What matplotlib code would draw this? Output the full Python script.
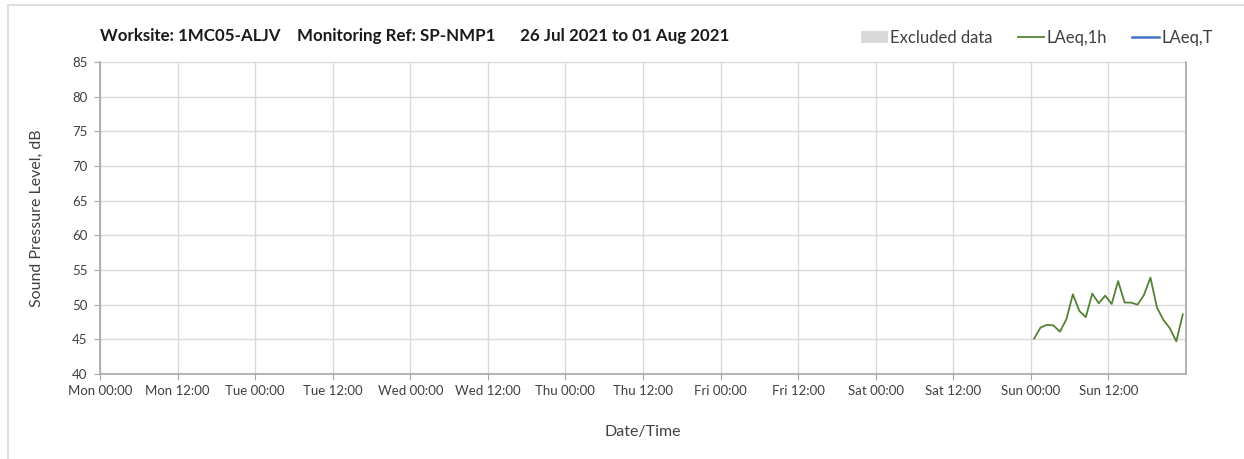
import matplotlib
matplotlib.use("Agg")
import matplotlib.pyplot as plt
import pandas as pd
from matplotlib.lines import Line2D
from matplotlib.patches import Patch

TITLE = "Worksite: 1MC05-ALJV    Monitoring Ref: SP-NMP1      26 Jul 2021 to 01 Aug 2021"
START = "2021-07-26 00:00"
END = "2021-08-02 00:00"

# hourly LAeq,1h readings on Sunday 01 Aug 2021 (timestamps at the mid-hour)
laeq_times = pd.date_range("2021-08-01 00:30", periods=24, freq="h")
laeq_1h = [45.1, 46.7, 47.1, 47.0, 46.1, 47.9, 51.5, 49.1, 48.2, 51.6, 50.2, 51.3,
           50.1, 53.4, 50.3, 50.3, 50.0, 51.4, 53.9, 49.6, 47.8, 46.6, 44.7, 48.6]

GREEN = "#548235"
BLUE = "#4472C4"
EXCL = "#D9D9D9"
GRID = "#D9D9D9"
SPINE = "#A6A6A6"
INK = "#404040"

plt.rcParams["font.family"] = ["Lato", "DejaVu Sans"]

fig = plt.figure(figsize=(12.44, 4.59), dpi=100)
ax = fig.add_axes([100 / 1244, 85 / 459, 1086 / 1244, 312 / 459])

ax.plot(laeq_times, laeq_1h, color=GREEN, lw=1.3, zorder=3)

ticks = pd.date_range(START, END, freq="12h")[:-1]
ax.set_xlim(pd.Timestamp(START), pd.Timestamp(END))
ax.set_ylim(40, 85)
ax.set_yticks(range(40, 86, 5))
ax.set_xticks(ticks)
ax.set_xticklabels([t.strftime("%a %H:%M") for t in ticks])
ax.grid(True, color=GRID, lw=1.0, zorder=0)
ax.tick_params(axis="both", labelsize=9.5, colors=SPINE, labelcolor=INK, length=4)
ax.tick_params(axis="x", pad=4)
ax.tick_params(axis="y", pad=5)
for side in ("left", "bottom", "right"):
    ax.spines[side].set_color(SPINE)
    ax.spines[side].set_linewidth(1.2)
ax.spines["top"].set_visible(False)

ax.set_xlabel("Date/Time", fontsize=11.5, color=INK, labelpad=20)
ax.set_ylabel("Sound Pressure Level, dB", fontsize=11.5, color=INK, labelpad=20)

fig.text(100 / 1244, 1 - 36 / 459, TITLE, fontsize=12.2, fontweight="bold",
         color="#1A1A1A", va="center", ha="left")

handles = [Patch(facecolor=EXCL, edgecolor="none"),
           Line2D([], [], color=GREEN, lw=1.3),
           Line2D([], [], color=BLUE, lw=1.8)]
fig.legend(handles, ["Excluded data", "LAeq,1h", "LAeq,T"], loc="center right",
           bbox_to_anchor=(1228 / 1244, 1 - 38 / 459), ncol=3, frameon=False,
           fontsize=12, handlelength=1.6, handletextpad=0.15, columnspacing=1.5,
           labelcolor="#404040")

# light outer frame of the exported chart
fig.add_artist(Line2D([8 / 1244, 8 / 1244], [0, 1 - 5 / 459], color="#D9D9D9", lw=1.2))
fig.add_artist(Line2D([8 / 1244, 1], [1 - 5 / 459, 1 - 5 / 459], color="#D9D9D9", lw=1.2))

fig.savefig("out.png", dpi=100)
